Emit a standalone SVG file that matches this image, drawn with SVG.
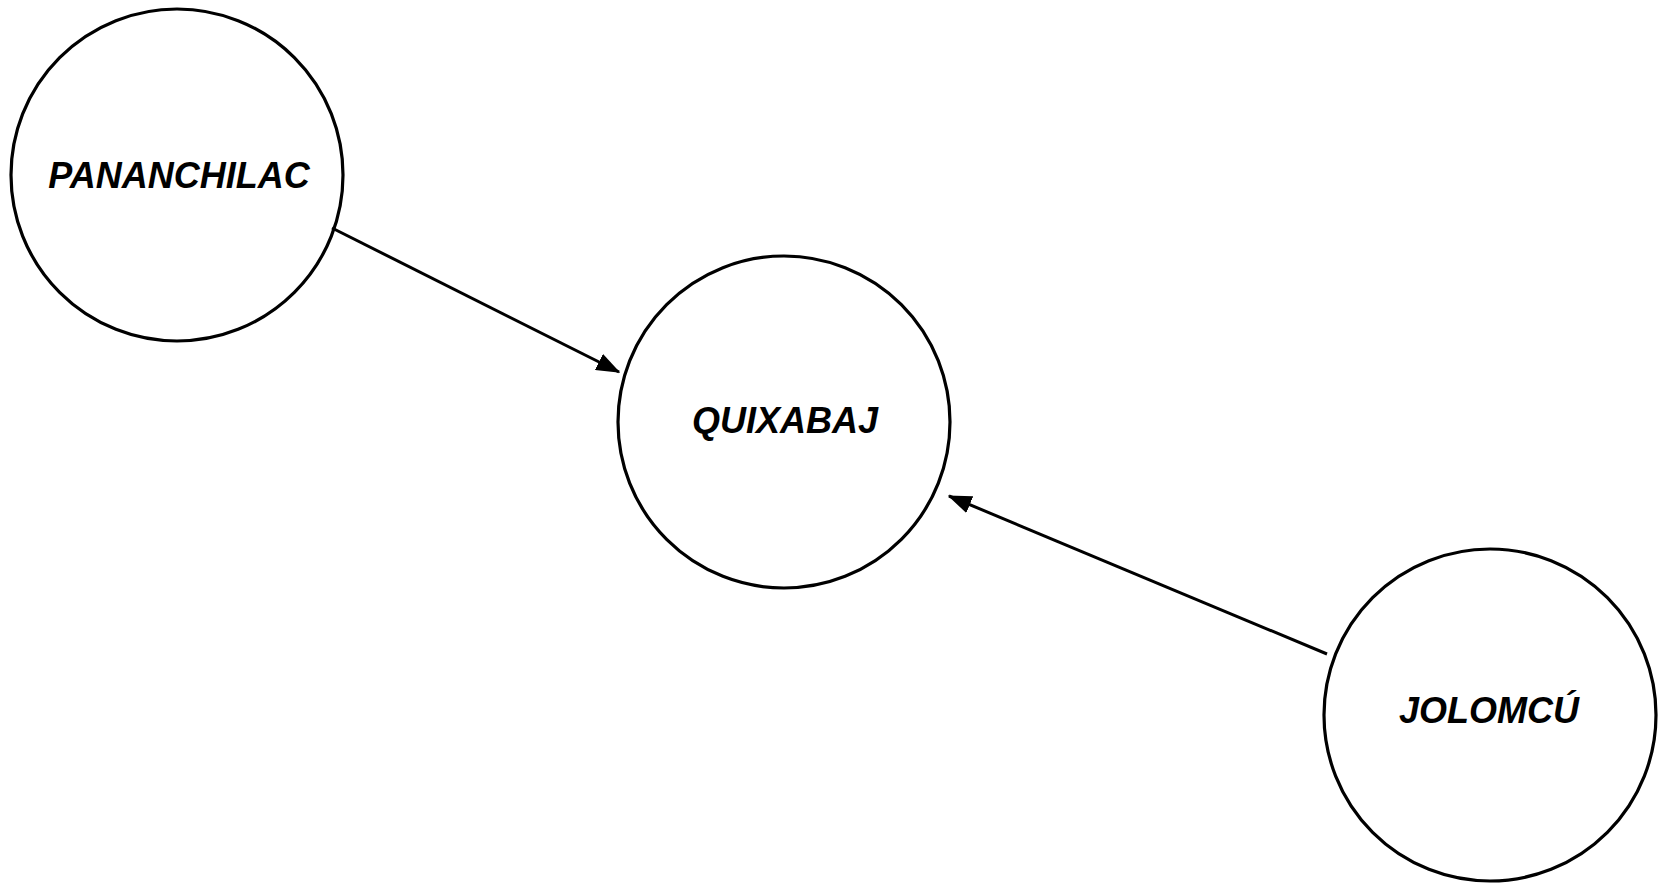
<svg xmlns="http://www.w3.org/2000/svg" width="1658" height="883" viewBox="0 0 1658 883">
<defs>
<marker id="ah" markerWidth="8" markerHeight="6" refX="7.5" refY="3" orient="auto" markerUnits="strokeWidth">
<path d="M0,0 L8,3 L0,6 Z" fill="#000"/>
</marker>
<style>
.node{fill:#fff;stroke:#000;stroke-width:3.2}
.lbl{font-family:"Liberation Sans",Arial,sans-serif;font-weight:bold;font-style:italic;font-size:36px;fill:#000;text-anchor:middle}
.edge{stroke:#000;stroke-width:3;fill:none;marker-end:url(#ah)}
</style>
</defs>
<rect width="1658" height="883" fill="#fff"/>
<g id="n-pananchilac">
<circle class="node" cx="177" cy="175" r="166"/>
<text class="lbl" x="179" y="188">PANANCHILAC</text>
</g>
<g id="n-quixabaj">
<circle class="node" cx="784" cy="422" r="166"/>
<text class="lbl" x="785" y="433">QUIXABAJ</text>
</g>
<g id="n-jolomcu">
<circle class="node" cx="1490" cy="715" r="166"/>
<text class="lbl" x="1489" y="723">JOLOMCÚ</text>
</g>
<g id="connectors">
<line class="edge" x1="332" y1="228" x2="619" y2="372"/>
<line class="edge" x1="1327" y1="654" x2="949" y2="496"/>
</g>
</svg>
